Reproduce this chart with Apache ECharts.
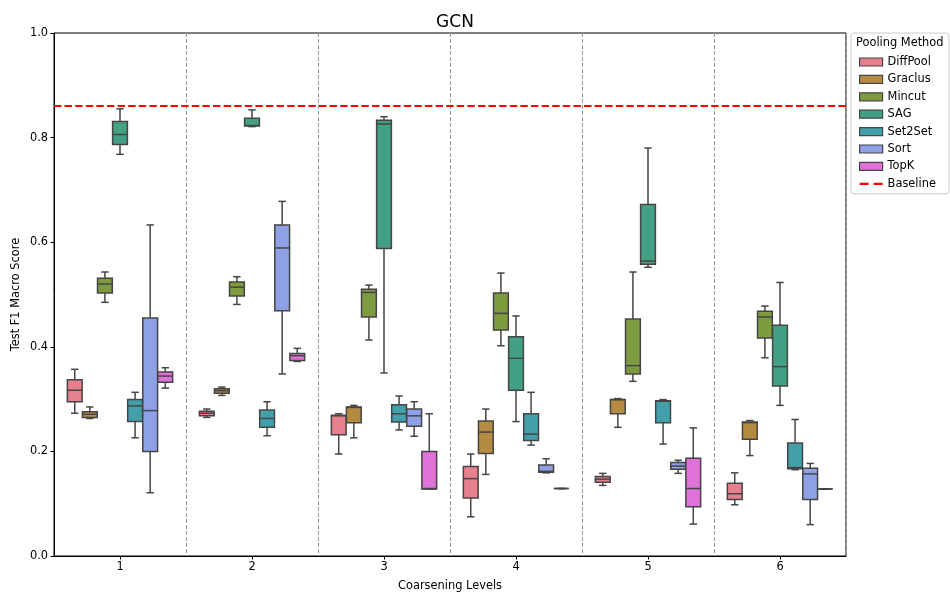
<!DOCTYPE html>
<html>
<head>
<meta charset="utf-8">
<script src="https://cdn.jsdelivr.net/npm/echarts@6/dist/echarts.min.js"></script>
<style>
  html, body { margin: 0; padding: 0; background: #fff; }
  #chart { width: 950px; height: 597px; }
</style>
</head>
<body>
<div id="chart"></div>
<script>
// Coarsening levels on the x axis
const levels = ['1', '2', '3', '4', '5', '6'];
const methods = ['DiffPool', 'Graclus', 'Mincut', 'SAG', 'Set2Set', 'Sort', 'TopK'];
const yTicks = [0.0, 0.2, 0.4, 0.6, 0.8, 1.0];

// Box statistics per level: [min, q1, median, q3, max]
const diffPool = [
  [0.273, 0.295, 0.317, 0.337, 0.357],
  [0.265, 0.268, 0.273, 0.277, 0.281],
  [0.195, 0.232, 0.268, 0.269, 0.272],
  [0.075, 0.111, 0.148, 0.171, 0.195],
  [0.135, 0.141, 0.147, 0.152, 0.158],
  [0.098, 0.108, 0.119, 0.139, 0.159]
];
const graclus = [
  [0.263, 0.265, 0.271, 0.276, 0.285],
  [0.307, 0.311, 0.316, 0.320, 0.323],
  [0.226, 0.255, 0.284, 0.285, 0.288],
  [0.156, 0.196, 0.237, 0.258, 0.281],
  [0.246, 0.272, 0.299, 0.299, 0.301],
  [0.192, 0.223, 0.255, 0.256, 0.259]
];
const mincut = [
  [0.485, 0.503, 0.520, 0.531, 0.543],
  [0.481, 0.497, 0.514, 0.524, 0.534],
  [0.413, 0.457, 0.504, 0.510, 0.518],
  [0.402, 0.432, 0.464, 0.503, 0.541],
  [0.334, 0.348, 0.364, 0.453, 0.543],
  [0.379, 0.417, 0.457, 0.468, 0.478]
];
const sag = [
  [0.768, 0.787, 0.806, 0.831, 0.855],
  [0.821, 0.822, 0.823, 0.837, 0.853],
  [0.350, 0.588, 0.826, 0.833, 0.840],
  [0.257, 0.317, 0.378, 0.419, 0.459],
  [0.552, 0.558, 0.564, 0.672, 0.780],
  [0.288, 0.325, 0.362, 0.441, 0.523]
];
const set2Set = [
  [0.226, 0.257, 0.287, 0.299, 0.313],
  [0.230, 0.246, 0.263, 0.279, 0.295],
  [0.241, 0.256, 0.272, 0.289, 0.306],
  [0.212, 0.221, 0.233, 0.272, 0.313],
  [0.214, 0.255, 0.296, 0.297, 0.299],
  [0.165, 0.167, 0.169, 0.216, 0.261]
];
const sort = [
  [0.121, 0.200, 0.278, 0.455, 0.633],
  [0.348, 0.469, 0.589, 0.633, 0.678],
  [0.229, 0.248, 0.268, 0.281, 0.295],
  [0.159, 0.160, 0.162, 0.174, 0.186],
  [0.158, 0.166, 0.172, 0.179, 0.183],
  [0.060, 0.108, 0.157, 0.168, 0.177]
];
const topK = [
  [0.321, 0.332, 0.344, 0.352, 0.360],
  [0.372, 0.374, 0.383, 0.387, 0.397],
  [0.128, 0.128, 0.129, 0.200, 0.272],
  [0.129, 0.129, 0.129, 0.129, 0.129],
  [0.061, 0.094, 0.129, 0.187, 0.245],
  [0.128, 0.128, 0.128, 0.128, 0.128]
];
const baseline = 0.86;

const stats = [diffPool, graclus, mincut, sag, set2Set, sort, topK];
const colors = ['#e6808f', '#b58b41', '#7e9b3e', '#44a084', '#43a0ab', '#8fa1e6', '#e071d8'];
const EDGE = '#454545';
const FONT = 'DejaVu Sans';

// Draws one dodged box (whiskers, caps, box, median) per data item
function renderBox(params, api) {
  const m = params.seriesIndex;
  const n = methods.length;
  const lvl = api.value(0);
  const band = api.size([1, 0])[0];
  const slot = band * 0.8 / n;
  const cx = api.coord([lvl, 0])[0] + (m - (n - 1) / 2) * slot;
  const bw = slot * 0.98;
  const cw = bw / 2;
  const y = i => api.coord([lvl, api.value(i)])[1];
  const yMin = y(1), yQ1 = y(2), yMed = y(3), yQ3 = y(4), yMax = y(5);
  const edge = { stroke: EDGE, lineWidth: 1.5, fill: null };
  return {
    type: 'group',
    children: [
      { type: 'line', shape: { x1: cx, y1: yQ1, x2: cx, y2: yMin }, style: edge },
      { type: 'line', shape: { x1: cx, y1: yQ3, x2: cx, y2: yMax }, style: edge },
      { type: 'line', shape: { x1: cx - cw / 2, y1: yMin, x2: cx + cw / 2, y2: yMin }, style: edge },
      { type: 'line', shape: { x1: cx - cw / 2, y1: yMax, x2: cx + cw / 2, y2: yMax }, style: edge },
      { type: 'rect', shape: { x: cx - bw / 2, y: yQ3, width: bw, height: yQ1 - yQ3 },
        style: { fill: api.visual('color'), stroke: EDGE, lineWidth: 1.5 } },
      { type: 'line', shape: { x1: cx - bw / 2, y1: yMed, x2: cx + bw / 2, y2: yMed }, style: edge }
    ]
  };
}

const boxSeries = methods.map((name, i) => ({
  name: name,
  type: 'custom',
  renderItem: renderBox,
  itemStyle: { color: colors[i] },
  encode: { x: 0, y: [1, 2, 3, 4, 5] },
  data: stats[i].map((s, lvl) => [lvl].concat(s)),
  z: 3
}));

const legendData = methods.map((name, i) => ({
  name: name,
  icon: 'rect',
  itemStyle: { color: colors[i], borderColor: EDGE, borderWidth: 1.2 }
}));
legendData.push({
  name: 'Baseline',
  icon: 'path://M0,0H8V2H0Z M12.5,0H20.5V2H12.5Z',
  itemStyle: { color: '#ff0000', borderWidth: 0 }
});

const chart = echarts.init(document.getElementById('chart'), null, { renderer: 'canvas' });
chart.setOption({
  animation: false,
  backgroundColor: '#ffffff',
  textStyle: { fontFamily: FONT },
  title: {
    text: 'GCN',
    left: 450,
    top: 9,
    textAlign: 'center',
    textStyle: { fontFamily: FONT, fontSize: 17, fontWeight: 'normal', color: '#000' }
  },
  grid: {
    left: 54, right: 104, top: 33, bottom: 40,
    show: true, borderColor: '#000', borderWidth: 1, backgroundColor: 'transparent'
  },
  legend: {
    orient: 'vertical',
    left: 851,
    top: 33,
    padding: [23, 13, 4, 8],
    itemWidth: 23,
    itemHeight: 8,
    itemGap: 5.4,
    borderColor: '#cccccc',
    borderWidth: 1,
    borderRadius: 3,
    backgroundColor: 'rgba(255,255,255,0.8)',
    selectedMode: false,
    textStyle: { fontFamily: FONT, fontSize: 11.4, color: '#000', lineHeight: 12 },
    data: legendData
  },
  graphic: [{
    type: 'text',
    left: 856,
    top: 38,
    style: { text: 'Pooling Method', fontFamily: FONT, fontSize: 11.4, fill: '#000' },
    z: 100
  }],
  xAxis: {
    type: 'category',
    data: levels,
    name: 'Coarsening Levels',
    nameLocation: 'middle',
    nameGap: 25,
    nameTextStyle: { fontFamily: FONT, fontSize: 11.4, color: '#000' },
    axisLine: { show: true, lineStyle: { color: '#000', width: 1 } },
    axisTick: { show: true, alignWithLabel: true, length: 3.5, lineStyle: { color: '#000', width: 1 } },
    axisLabel: { margin: 6, fontFamily: FONT, fontSize: 11.4, color: '#000' },
    splitLine: { show: true, interval: 0, lineStyle: { color: '#9a9a9a', width: 1, type: [4, 2] } }
  },
  yAxis: {
    type: 'value',
    min: 0,
    max: 1,
    interval: 0.2,
    name: 'Test F1 Macro Score',
    nameLocation: 'middle',
    nameGap: 32,
    nameMoveOverlap: false,
    nameTextStyle: { fontFamily: FONT, fontSize: 11.4, color: '#000' },
    axisLine: { show: true, lineStyle: { color: '#000', width: 1 } },
    axisTick: { show: true, length: 3.5, lineStyle: { color: '#000', width: 1 } },
    axisLabel: {
      margin: 6, fontFamily: FONT, fontSize: 11.4, color: '#000',
      formatter: v => yTicks.includes(Math.round(v * 10) / 10) ? v.toFixed(1) : ''
    },
    splitLine: { show: false }
  },
  series: boxSeries.concat([{
    name: 'Baseline',
    type: 'line',
    data: [],
    itemStyle: { color: '#ff0000' },
    lineStyle: { color: '#ff0000', width: 2, type: [7.4, 3.2] },
    markLine: {
      silent: true,
      symbol: 'none',
      label: { show: false },
      lineStyle: { color: '#ff0000', width: 2, type: [7.4, 3.2] },
      data: [{ yAxis: baseline }]
    },
    z: 5
  }])
});
</script>
</body>
</html>
